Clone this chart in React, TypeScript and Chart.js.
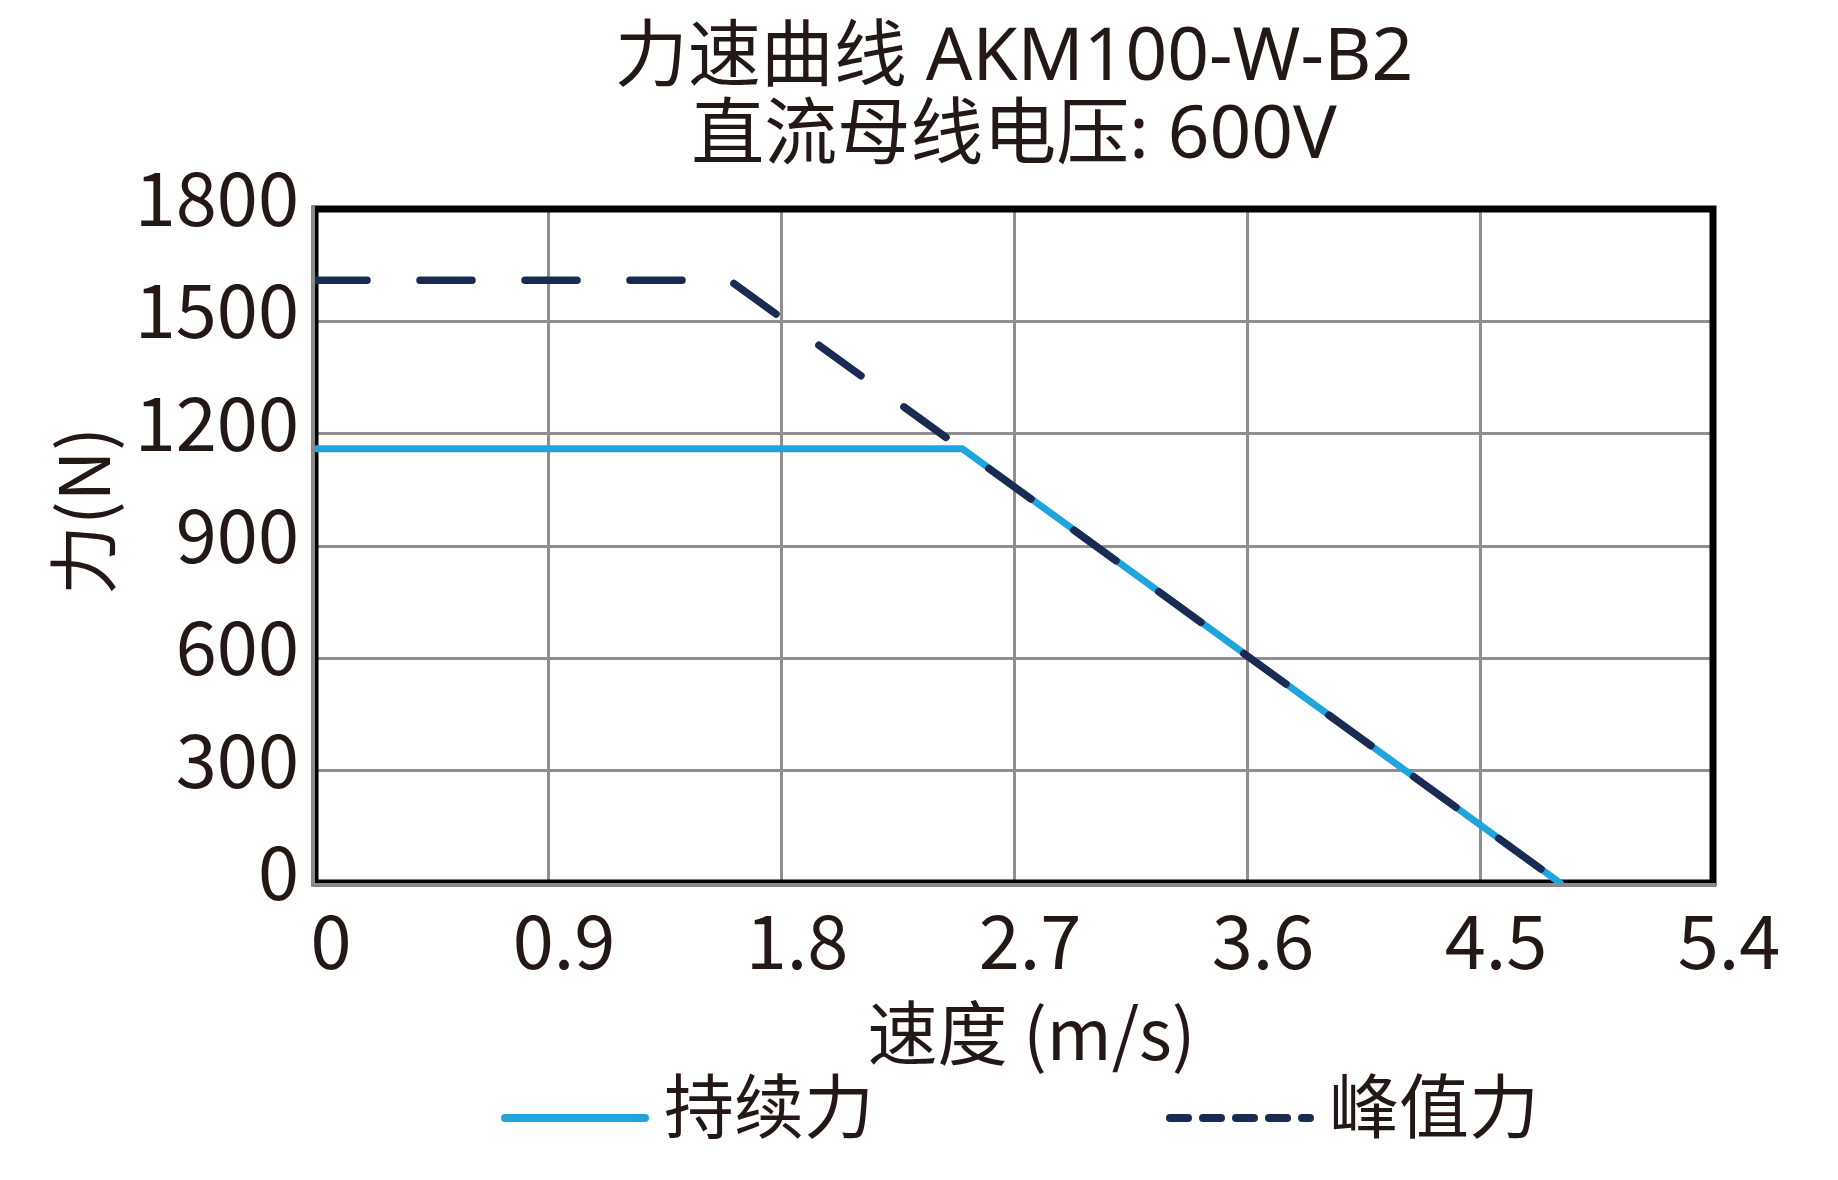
import React, { useEffect, useRef } from 'react';
import { Chart, registerables } from 'chart.js';

Chart.register(...registerables);

// ---- data ----
const titleLines = ['力速曲线 AKM100-W-B2', '直流母线电压: 600V'];
const xAxisTitle = '速度 (m/s)';
const yAxisTitle = '力(N)';
const xTicks = [0, 0.9, 1.8, 2.7, 3.6, 4.5, 5.4];
const xTickLabels = ['0', '0.9', '1.8', '2.7', '3.6', '4.5', '5.4'];
const yTicks = [0, 300, 600, 900, 1200, 1500, 1800];
const yTickLabels = ['0', '300', '600', '900', '1200', '1500', '1800'];
const seriesNames = ['持续力', '峰值力'];
const continuousSpeed = [0, 2.5, 4.81];
const continuousForce = [1160, 1160, 0];
const peakSpeed = [0, 1.6, 4.81];
const peakForce = [1610, 1610, 0];

// ---- styles ----
const FONT = "'Noto Sans CJK SC', 'Noto Sans', sans-serif";
const TITLE_FONT = "'Noto Sans', 'Noto Sans CJK SC', sans-serif";
const TEXT = '#231815';
const BLUE = '#1fa5de';
const NAVY = '#1b2a52';
const GRID = '#8f8f8f';

// legend sample marker (drawn off-screen, used as the legend point style)
function makeLegendSample(color: string, dash: number[]) {
  const c = document.createElement('canvas');
  c.width = 300;
  c.height = 40;
  const g = c.getContext('2d')!;
  g.strokeStyle = color;
  g.lineWidth = 8;
  g.lineCap = 'round';
  g.setLineDash(dash);
  g.beginPath();
  g.moveTo(96, 32);
  g.lineTo(236, 32);
  g.stroke();
  return c;
}

const framePlugin = {
  id: 'frame',
  beforeDatasetsDraw(chart: any) {
    const { ctx, chartArea } = chart;
    const { left, top, right, bottom } = chartArea;
    ctx.save();
    ctx.strokeStyle = '#000000';
    ctx.lineWidth = 7;
    ctx.strokeRect(left, top, right - left, bottom - top);
    ctx.fillStyle = '#8a8a8a';
    ctx.fillRect(left - 3.5, top - 3.5, 3.5, bottom - top + 7);
    ctx.fillRect(left - 3.5, bottom, right - left + 7, 3.5);
    ctx.restore();
  },
};

export default function App() {
  const canvasRef = useRef<HTMLCanvasElement | null>(null);

  useEffect(() => {
    if (!canvasRef.current) return;
    const samples = [makeLegendSample(BLUE, []), makeLegendSample(NAVY, [18, 15])];
    const chart = new Chart(canvasRef.current, {
      type: 'line',
      data: {
        datasets: [
          {
            label: seriesNames[0],
            data: continuousSpeed.map((x, i) => ({ x, y: continuousForce[i] })),
            borderColor: BLUE,
            backgroundColor: BLUE,
            borderWidth: 7,
            pointRadius: 0,
            fill: false,
            tension: 0,
            order: 2,
            borderCapStyle: 'round',
          },
          {
            label: seriesNames[1],
            data: peakSpeed.map((x, i) => ({ x, y: peakForce[i] })),
            borderColor: NAVY,
            backgroundColor: NAVY,
            borderWidth: 7.5,
            borderDash: [52, 53],
            borderCapStyle: 'round',
            pointRadius: 0,
            fill: false,
            tension: 0,
            order: 1,
          },
        ],
      },
      options: {
        responsive: false,
        animation: false,
        devicePixelRatio: 1,
        layout: { padding: { left: 0, right: 125, top: 0, bottom: 29 } },
        plugins: {
          title: {
            display: true,
            text: titleLines,
            color: TEXT,
            fullSize: false,
            font: { family: TITLE_FONT, size: 73, weight: 'normal', lineHeight: 78 / 73 },
            padding: { top: 20, bottom: 33 },
          },
          legend: {
            position: 'bottom',
            fullSize: false,
            labels: {
              usePointStyle: true,
              pointStyleWidth: 140,
              padding: 0,
              color: TEXT,
              font: { family: FONT, size: 70, lineHeight: 1 },
              generateLabels: (c: any) =>
                c.data.datasets.map((ds: any, i: number) => ({
                  text: i === 0 ? ds.label + '\u3000\u3000\u3000\u3000' : ds.label,
                  fillStyle: ds.borderColor,
                  strokeStyle: ds.borderColor,
                  fontColor: TEXT,
                  lineWidth: 8,
                  pointStyle: samples[i],
                  rotation: 0,
                  hidden: false,
                  datasetIndex: i,
                })),
            },
          },
          tooltip: { enabled: false },
        },
        scales: {
          x: {
            type: 'linear',
            min: 0,
            max: 5.4,
            afterBuildTicks: (s: any) => {
              s.ticks = xTicks.map((v) => ({ value: v }));
            },
            afterFit: (s: any) => {
              s.height = 188;
            },
            grid: { color: GRID, lineWidth: 3, drawTicks: false },
            border: { display: false },
            ticks: {
              color: TEXT,
              font: { family: FONT, size: 74, lineHeight: 1 },
              padding: 21,
              labelOffset: 16,
              maxRotation: 0,
              autoSkip: false,
              callback: (_v: any, i: number) => xTickLabels[i],
            },
            title: {
              display: true,
              text: '\u2002' + xAxisTitle,
              color: TEXT,
              font: { family: FONT, size: 70, lineHeight: 1 },
              padding: { top: 0, bottom: 3 },
            },
          },
          y: {
            type: 'linear',
            min: 0,
            max: 1800,
            afterBuildTicks: (s: any) => {
              s.ticks = yTicks.map((v) => ({ value: v }));
            },
            afterFit: (s: any) => {
              s.width = 315;
            },
            grid: { color: GRID, lineWidth: 3, drawTicks: false },
            border: { display: false },
            ticks: {
              color: TEXT,
              font: { family: FONT, size: 74, lineHeight: 1 },
              padding: 16,
              labelOffset: -11,
              autoSkip: false,
              callback: (_v: any, i: number) => yTickLabels[i],
            },
            title: {
              display: true,
              text: '\u3000' + yAxisTitle,
              color: TEXT,
              font: { family: FONT, size: 70, lineHeight: 1 },
              padding: { top: 48, bottom: 0 },
            },
          },
        },
      } as any,
      plugins: [framePlugin],
    });
    return () => chart.destroy();
  }, []);

  return (
    <div style={{ position: 'fixed', left: 0, top: 0, width: 1838, height: 1180, background: '#ffffff' }}>
      <canvas ref={canvasRef} width={1838} height={1180} style={{ width: 1838, height: 1180, display: 'block' }} />
    </div>
  );
}
